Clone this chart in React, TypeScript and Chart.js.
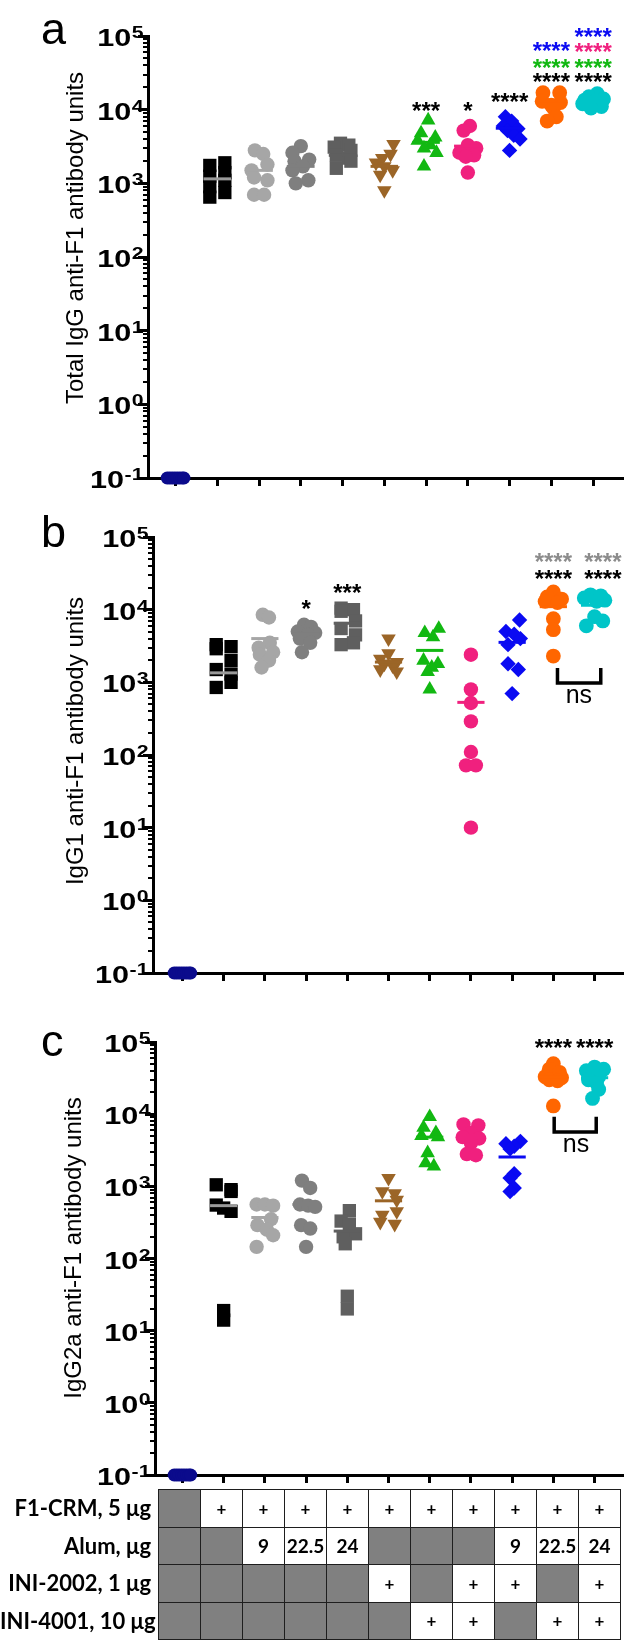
import React, { useEffect, useRef } from 'react';
import { Chart, registerables } from 'chart.js';

Chart.register(...registerables);

const ARIAL = '"Liberation Sans", Arial, Helvetica, sans-serif';
const TABLE_FONT = 'Lato, "Open Sans", "Liberation Sans", sans-serif';

const BLACK = '#000000';
const NAVY = '#0b0b8c';
const LIGHT_GRAY = '#a6a6a6';
const MID_GRAY = '#7f7f7f';
const DARK_GRAY = '#5f5f5f';
const BROWN = '#9b6527';
const GREEN = '#12b812';
const PINK = '#f0207e';
const BLUE = '#0a0af2';
const ORANGE = '#ff6600';
const CYAN = '#00c5c8';
const STAR_GRAY = '#8c8c8c';

// groups = the 11 columns of the table below the charts
const groupColors = [NAVY, BLACK, LIGHT_GRAY, MID_GRAY, DARK_GRAY, BROWN, GREEN, PINK, BLUE, ORANGE, CYAN];
const meanColors = [NAVY, '#9a9a9a', LIGHT_GRAY, MID_GRAY, DARK_GRAY, BROWN, GREEN, PINK, BLUE, ORANGE, CYAN];
const groupShapes = ['circle', 'rect', 'circle', 'circle', 'rect', 'triangle', 'triangle', 'circle', 'rectRot', 'circle', 'circle'];
const groupRotation = [0, 0, 0, 0, 0, 180, 0, 0, 0, 0, 0];
const groupRadius = [6.5, 9.4, 7.2, 7.2, 9.4, 8.4, 8.4, 7.2, 7.7, 7.4, 7.4];

const xTickValues = [0, 1, 2, 3, 4, 5, 6, 7, 8, 9, 10];
const yTickValues = [0.1, 1, 10, 100, 1000, 10000, 100000];
const yTickBase = '10';
const yTickExponents = ['-1', '0', '1', '2', '3', '4', '5'];
const minorMultipliers = [2, 3, 4, 5, 6, 7, 8, 9];

// ---------- panel a : Total IgG ----------
const totalIgG = [
  [0.1, 0.1, 0.1, 0.1, 0.1, 0.1, 0.1, 0.1],
  [1900, 1750, 1400, 1250, 1100, 900, 750, 650],
  [2800, 2500, 1800, 1500, 1200, 1100, 700, 700],
  [3200, 2600, 2100, 2000, 1700, 1500, 1100, 1000],
  [3500, 3300, 3100, 2800, 2400, 2200, 2000, 1600],
  [3400, 2500, 2200, 1900, 1700, 1500, 1300, 800],
  [7200, 4800, 4200, 3800, 3300, 3000, 2600, 1700],
  [6000, 5200, 3300, 3000, 2600, 2400, 2300, 1400],
  [8000, 7000, 6000, 5500, 5200, 4500, 4000, 2800],
  [17000, 17000, 13000, 12500, 11500, 10500, 8000, 7000],
  [16500, 15000, 14000, 13500, 13000, 12000, 11000, 10500],
];
const totalIgGJitter = [
  [-0.2, -0.14, -0.08, -0.02, 0.04, 0.1, 0.16, 0.2],
  [0.18, -0.18, 0.18, -0.18, 0.18, -0.18, 0.18, -0.18],
  [-0.1, 0.1, 0.2, -0.18, -0.12, 0.2, -0.12, 0.12],
  [0, -0.2, 0.2, -0.15, 0.05, -0.2, 0.18, -0.12],
  [-0.05, 0.15, -0.2, 0.2, -0.15, 0.15, 0.2, -0.15],
  [0.22, 0.15, -0.05, -0.2, 0, 0.2, -0.1, 0],
  [0.05, -0.12, 0.22, -0.2, 0.1, -0.05, 0.25, -0.05],
  [0.05, -0.1, 0, 0.2, -0.2, 0.15, -0.05, 0],
  [-0.1, 0.05, -0.15, 0.2, -0.05, 0.1, 0.25, 0],
  [-0.2, 0.2, -0.22, 0.22, 0, 0.05, 0.12, -0.1],
  [0.1, -0.1, 0.25, -0.2, 0.05, -0.25, 0.2, -0.05],
];
const totalIgGMeans = [null, 1150, 1500, 1700, 2400, 1700, 3600, 3200, 5600, 12000, 13000];
// [x position (group), text, colour, value]
const totalIgGStars: [number, string, string, number][] = [
  [6, '***', BLACK, 11400],
  [7, '*', BLACK, 11400],
  [8, '****', BLACK, 15200],
  [9, '****', BLACK, 28000],
  [9, '****', GREEN, 44000],
  [9, '****', BLUE, 75500],
  [10, '****', BLACK, 28000],
  [10, '****', GREEN, 44000],
  [10, '****', PINK, 71600],
  [10, '****', BLUE, 114000],
];

// ---------- panel b : IgG1 ----------
const igg1 = [
  [0.1, 0.1, 0.1, 0.1, 0.1, 0.1, 0.1, 0.1],
  [3300, 3100, 2900, 2000, 1500, 1300, 1000, 850],
  [8500, 7800, 3500, 3000, 2600, 2400, 2000, 1600],
  [6200, 5800, 5000, 4800, 4500, 4000, 3500, 2600],
  [10500, 10000, 9500, 7000, 5500, 4500, 3500, 3300],
  [4000, 2500, 2100, 1900, 1800, 1700, 1500, 1400],
  [5500, 4800, 4200, 2000, 1800, 1600, 1400, 800],
  [2400, 800, 520, 290, 110, 72, 72, 10],
  [7200, 5000, 4600, 4000, 3300, 1800, 1500, 700],
  [17500, 15000, 14000, 13000, 12500, 7500, 5300, 2300],
  [16000, 15500, 14500, 13500, 13000, 8000, 7000, 6000],
];
const igg1Jitter = [
  [-0.2, -0.14, -0.08, -0.02, 0.04, 0.1, 0.16, 0.2],
  [-0.18, 0.18, -0.18, 0.18, -0.18, 0.18, 0.18, -0.18],
  [-0.05, 0.1, 0.12, -0.15, 0.2, -0.12, 0.1, -0.08],
  [-0.05, 0.12, -0.2, 0.22, 0.05, -0.15, 0.1, -0.1],
  [-0.15, 0.15, -0.15, 0.2, -0.15, 0.2, 0.15, -0.15],
  [0, 0, -0.2, 0.2, -0.1, 0.1, -0.2, 0.2],
  [0.22, -0.12, 0.08, -0.15, 0.2, 0.05, -0.05, 0],
  [0, 0, 0, 0, 0, -0.12, 0.12, 0],
  [0.18, -0.15, 0.05, 0.2, -0.1, -0.1, 0.15, 0],
  [0, -0.15, 0.2, -0.2, 0.1, 0, 0, 0],
  [-0.1, 0.15, -0.25, 0.25, 0.05, 0, 0.2, -0.2],
];
const igg1Means = [null, 1350, 4000, 4600, 6500, 1900, 2750, 530, 3550, 11000, 11500];
const igg1Stars: [number, string, string, number][] = [
  [3, '*', BLACK, 12250],
  [4, '***', BLACK, 20300],
  [9, '****', BLACK, 31700],
  [9, '****', STAR_GRAY, 53600],
  [10.2, '****', BLACK, 31700],
  [10.2, '****', STAR_GRAY, 53600],
];

// ---------- panel c : IgG2a ----------
const igg2a = [
  [0.1, 0.1, 0.1, 0.1, 0.1, 0.1, 0.1, 0.1],
  [1050, 900, 850, 550, 500, 450, 19, 14],
  [560, 560, 540, 350, 290, 250, 210, 145],
  [1200, 950, 560, 540, 520, 290, 260, 145],
  [460, 330, 300, 220, 200, 160, 30, 20],
  [1300, 850, 800, 650, 450, 400, 320, 300],
  [9200, 6500, 5500, 5000, 4800, 2900, 2100, 1900],
  [7200, 7000, 5500, 4800, 4600, 4000, 2800, 2700],
  [4200, 3900, 3600, 3300, 1500, 1300, 950, 850],
  [50000, 42000, 38000, 33000, 32000, 30000, 29000, 13000],
  [45000, 42000, 40000, 33000, 30000, 27000, 22000, 16500],
];
const igg2aJitter = [
  [-0.2, -0.14, -0.08, -0.02, 0.04, 0.1, 0.16, 0.2],
  [-0.18, 0.18, 0.18, -0.18, 0, 0.18, 0, 0],
  [-0.2, 0, 0.2, 0.15, -0.18, 0.05, 0.2, -0.2],
  [-0.1, 0.1, -0.15, 0.05, 0.22, -0.12, 0.1, 0],
  [0.05, -0.15, 0.05, 0.2, -0.1, -0.05, 0, 0],
  [0, -0.15, 0.15, 0.2, 0.2, -0.15, -0.2, 0.15],
  [0, -0.15, 0.15, -0.2, 0.2, -0.05, -0.1, 0.1],
  [-0.18, 0.18, 0, -0.2, 0.2, 0, -0.1, 0.12],
  [0.2, -0.15, 0.05, -0.05, 0.05, -0.05, 0.05, -0.05],
  [0, -0.1, 0.15, -0.2, 0.2, -0.1, 0.1, 0],
  [0, 0.22, -0.2, 0.1, -0.15, 0.05, 0.1, -0.05],
];
const igg2aMeans = [null, 540, 370, 560, 240, 630, 4800, 4900, 2550, 33000, 32000];
const igg2aStars: [number, string, string, number][] = [
  [9, '****', BLACK, 98000],
  [10, '****', BLACK, 98000],
];

// ---------- table ----------
const tableRowLabels = ['F1-CRM, 5 μg', 'Alum, μg', 'INI-2002, 1 μg', 'INI-4001, 10 μg'];
const f1crmRow = [null, '+', '+', '+', '+', '+', '+', '+', '+', '+', '+'];
const alumRow = [null, null, '9', '22.5', '24', null, null, null, '9', '22.5', '24'];
const ini2002Row = [null, null, null, null, null, '+', null, '+', '+', null, '+'];
const ini4001Row = [null, null, null, null, null, null, '+', '+', null, '+', '+'];
const tableRows = [f1crmRow, alumRow, ini2002Row, ini4001Row];

type Bracket = { x1: number; x2: number; top: number; bottom: number; textX: number; textY: number };

type PanelDef = {
  letter: string;
  title: string;
  values: number[][];
  jitter: number[][];
  means: (number | null)[];
  stars: [number, string, string, number][];
  bracket: Bracket | null;
  canvasTop: number;
  canvasHeight: number;
  axisLeft: number;
  axisRight: number;
  plotTop: number;
  plotBottom: number;
  tick0: number;
  tickStep: number;
  titleX: number;
  titleY: number;
  letterX: number;
  letterY: number;
};

const panels: PanelDef[] = [
  {
    letter: 'a', title: 'Total IgG anti-F1 antibody units',
    values: totalIgG, jitter: totalIgGJitter, means: totalIgGMeans, stars: totalIgGStars, bracket: null,
    canvasTop: 0, canvasHeight: 500, axisLeft: 148, axisRight: 631, plotTop: 36, plotBottom: 478,
    tick0: 176, tickStep: 42.4, titleX: 83, titleY: 238, letterX: 41, letterY: 44,
  },
  {
    letter: 'b', title: 'IgG1 anti-F1 antibody units',
    values: igg1, jitter: igg1Jitter, means: igg1Means, stars: igg1Stars,
    bracket: { x1: 9.1, x2: 10.15, top: 1580, bottom: 980, textX: 9.62, textY: 630 },
    canvasTop: 500, canvasHeight: 490, axisLeft: 153, axisRight: 628, plotTop: 37, plotBottom: 473,
    tick0: 182.7, tickStep: 41.6, titleX: 83, titleY: 241, letterX: 41, letterY: 47,
  },
  {
    letter: 'c', title: 'IgG2a anti-F1 antibody units',
    values: igg2a, jitter: igg2aJitter, means: igg2aMeans, stars: igg2aStars,
    bracket: { x1: 9.02, x2: 10.04, top: 9180, bottom: 5670, textX: 9.55, textY: 3720 },
    canvasTop: 990, canvasHeight: 510, axisLeft: 155, axisRight: 628, plotTop: 52, plotBottom: 485,
    tick0: 182.7, tickStep: 41.6, titleX: 81, titleY: 258, letterX: 41, letterY: 66,
  },
];

const MEAN_HALF = 0.33;
const X_AXIS_H = 8;
const LABEL_STRETCH = 1.33;

function buildConfig(def: PanelDef): any {
  const datasets: any[] = [];
  def.means.forEach((m, g) => {
    if (m == null) return;
    datasets.push({
      type: 'line',
      data: [{ x: g - MEAN_HALF, y: m }, { x: g + MEAN_HALF, y: m }],
      borderColor: meanColors[g],
      borderWidth: 3,
      pointRadius: 0,
      showLine: true,
      clip: false,
      order: 0,
    });
  });
  def.values.forEach((vals, g) => {
    datasets.push({
      type: 'scatter',
      data: vals.map((v, i) => ({ x: g + def.jitter[g][i], y: v })),
      pointStyle: groupShapes[g],
      pointRadius: groupRadius[g],
      pointRotation: groupRotation[g],
      pointBackgroundColor: groupColors[g],
      pointBorderColor: groupColors[g],
      pointBorderWidth: 0,
      showLine: false,
      clip: false,
      order: 1,
    });
  });

  const xMin = -(def.tick0 - def.axisLeft) / def.tickStep;
  const xMax = (def.axisRight - def.tick0) / def.tickStep;

  const decor = {
    id: 'decor' + def.letter,
    afterDraw(chart: any) {
      const ctx = chart.ctx as CanvasRenderingContext2D;
      const xs = chart.scales.x;
      const ys = chart.scales.y;
      ctx.save();
      // minor ticks on the log axis
      ctx.strokeStyle = BLACK;
      ctx.lineWidth = 2;
      for (let d = 0; d < yTickValues.length - 1; d++) {
        for (const m of minorMultipliers) {
          const y = Math.round(ys.getPixelForValue(yTickValues[d] * m));
          ctx.beginPath();
          ctx.moveTo(ys.right - 5, y);
          ctx.lineTo(ys.right, y);
          ctx.stroke();
        }
      }
      // tick labels: 10 with a raised exponent (wide bold face)
      ctx.fillStyle = BLACK;
      ctx.textBaseline = 'alphabetic';
      ctx.textAlign = 'right';
      yTickValues.forEach((v, i) => {
        const y = ys.getPixelForValue(v);
        const expRight = ys.right - 4.5;
        ctx.font = `bold 16px ${ARIAL}`;
        const ew = ctx.measureText(yTickExponents[i]).width * LABEL_STRETCH;
        ctx.save();
        ctx.translate(expRight, y + 2);
        ctx.scale(LABEL_STRETCH, 1);
        ctx.fillText(yTickExponents[i], 0, 0);
        ctx.restore();
        ctx.font = `bold 23px ${ARIAL}`;
        ctx.save();
        ctx.translate(expRight - ew - 0.5, y + 10);
        ctx.scale(LABEL_STRETCH, 1);
        ctx.fillText(yTickBase, 0, 0);
        ctx.restore();
      });
      // significance stars
      const fs = 24;
      ctx.font = `bold ${fs}px ${ARIAL}`;
      ctx.textAlign = 'center';
      for (const [g, txt, col, v] of def.stars) {
        ctx.fillStyle = col;
        ctx.fillText(txt, xs.getPixelForValue(g), ys.getPixelForValue(v) + fs * 0.57);
      }
      // ns bracket
      if (def.bracket) {
        const b = def.bracket;
        const x1 = xs.getPixelForValue(b.x1);
        const x2 = xs.getPixelForValue(b.x2);
        const yt = ys.getPixelForValue(b.top);
        const yb = ys.getPixelForValue(b.bottom);
        ctx.strokeStyle = BLACK;
        ctx.lineWidth = 3.5;
        ctx.lineJoin = 'miter';
        ctx.beginPath();
        ctx.moveTo(x1, yt);
        ctx.lineTo(x1, yb);
        ctx.lineTo(x2, yb);
        ctx.lineTo(x2, yt);
        ctx.stroke();
        ctx.fillStyle = BLACK;
        ctx.font = `25px ${ARIAL}`;
        ctx.fillText('ns', xs.getPixelForValue(b.textX), ys.getPixelForValue(b.textY) + 25 * 0.26);
      }
      // axis title
      ctx.save();
      ctx.translate(def.titleX, def.titleY);
      ctx.rotate(-Math.PI / 2);
      ctx.fillStyle = BLACK;
      ctx.font = `24px ${ARIAL}`;
      ctx.textAlign = 'center';
      ctx.fillText(def.title, 0, 0);
      ctx.restore();
      // panel letter
      ctx.fillStyle = BLACK;
      ctx.font = `45px ${ARIAL}`;
      ctx.textAlign = 'left';
      ctx.fillText(def.letter, def.letterX, def.letterY);
      ctx.restore();
    },
  };

  return {
    type: 'scatter',
    data: { datasets },
    options: {
      responsive: false,
      animation: false,
      events: [],
      layout: {
        padding: {
          top: def.plotTop,
          left: 0,
          right: 633 - def.axisRight,
          bottom: def.canvasHeight - def.plotBottom - X_AXIS_H,
        },
      },
      plugins: { legend: { display: false }, tooltip: { enabled: false }, title: { display: false } },
      scales: {
        x: {
          type: 'linear',
          min: xMin,
          max: xMax,
          afterBuildTicks: (s: any) => { s.ticks = xTickValues.map((v) => ({ value: v })); },
          afterFit: (s: any) => { s.height = X_AXIS_H; },
          ticks: { display: false },
          grid: { drawOnChartArea: false, drawTicks: true, tickLength: 8, tickWidth: 3, tickColor: BLACK },
          border: { display: true, width: 3, color: BLACK },
        },
        y: {
          type: 'logarithmic',
          min: 0.1,
          max: 100000,
          afterBuildTicks: (s: any) => { s.ticks = yTickValues.map((v) => ({ value: v, major: true })); },
          afterFit: (s: any) => { s.width = def.axisLeft; },
          ticks: { display: false },
          grid: { drawOnChartArea: false, drawTicks: true, tickLength: 10, tickWidth: 3, tickColor: BLACK },
          border: { display: true, width: 3, color: BLACK },
        },
      },
    },
    plugins: [decor],
  };
}

function PanelChart({ def }: { def: PanelDef }) {
  const ref = useRef<HTMLCanvasElement>(null);
  useEffect(() => {
    if (!ref.current) return;
    const chart = new Chart(ref.current, buildConfig(def));
    return () => chart.destroy();
  }, [def]);
  return (
    <canvas
      ref={ref}
      width={633}
      height={def.canvasHeight}
      style={{ position: 'absolute', left: 0, top: def.canvasTop, width: 633, height: def.canvasHeight }}
    />
  );
}

const TABLE_LEFT = 158;
const TABLE_TOP = 1489;
const CELL_W = 42;
const CELL_H = 37.5;

function DoseTable() {
  return (
    <>
      {tableRowLabels.map((label, r) => (
        <div
          key={'l' + r}
          style={{
            position: 'absolute', left: 0, width: 151, top: TABLE_TOP + r * CELL_H, height: CELL_H,
            lineHeight: CELL_H + 'px', textAlign: 'right', fontFamily: TABLE_FONT, fontWeight: 700,
            fontSize: 22, color: BLACK, whiteSpace: 'nowrap',
          }}
        >
          {label}
        </div>
      ))}
      <div
        style={{
          position: 'absolute', left: TABLE_LEFT, top: TABLE_TOP, display: 'grid',
          gridTemplateColumns: `repeat(11, ${CELL_W}px)`, gridTemplateRows: `repeat(4, ${CELL_H}px)`,
          borderTop: '1px solid #1e1e1e', borderLeft: '1px solid #1e1e1e',
        }}
      >
        {tableRows.map((row, r) =>
          row.map((cell, c) => (
            <div
              key={r + '-' + c}
              style={{
                boxSizing: 'border-box', borderRight: '1px solid #1e1e1e', borderBottom: '1px solid #1e1e1e',
                background: cell === null ? '#808080' : '#ffffff', display: 'flex', alignItems: 'center',
                justifyContent: 'center', fontFamily: TABLE_FONT, fontWeight: 700,
                fontSize: cell === '+' ? 17 : 19, color: BLACK,
              }}
            >
              {cell ?? ''}
            </div>
          ))
        )}
      </div>
    </>
  );
}

export default function App() {
  return (
    <div style={{ position: 'absolute', left: 0, top: 0, width: 633, height: 1641, background: '#fff', overflow: 'hidden' }}>
      {panels.map((p) => (
        <PanelChart key={p.letter} def={p} />
      ))}
      <DoseTable />
    </div>
  );
}
